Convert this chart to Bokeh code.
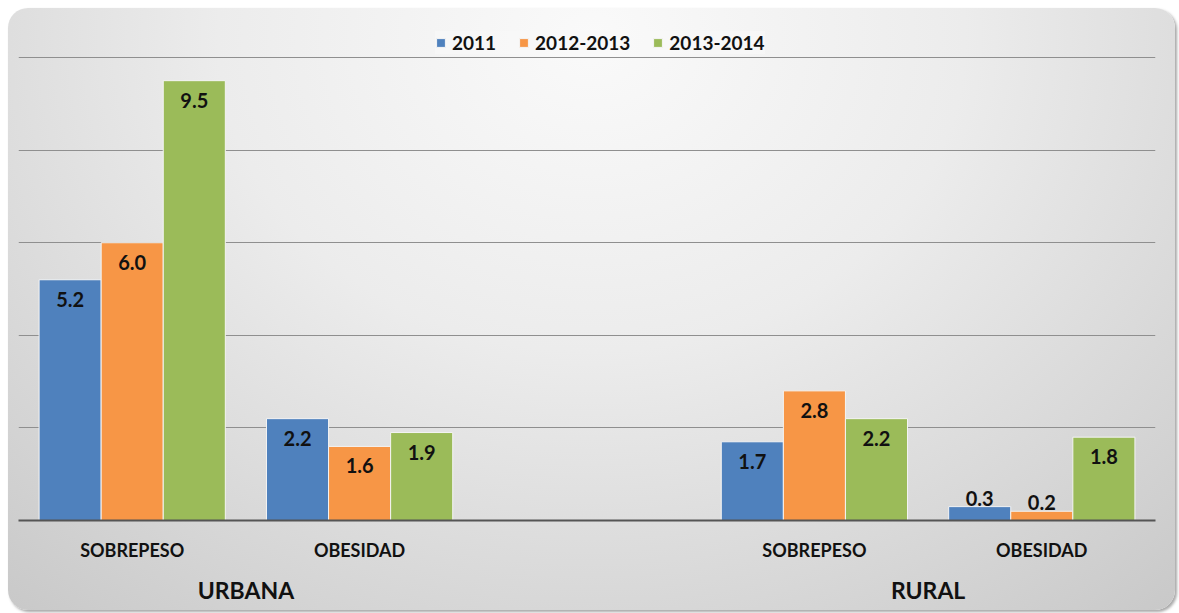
from bokeh.plotting import figure
from bokeh.models import ColumnDataSource, FactorRange, Legend, LegendItem, Grid, FixedTicker, Range1d
from bokeh.transform import dodge
from bokeh.core.properties import value
from bokeh.embed import file_html
from bokeh.resources import INLINE

zones = ["URBANA", "URBANA", "RURAL", "RURAL"]
conditions = ["SOBREPESO", "OBESIDAD", "SOBREPESO", "OBESIDAD"]
series_names = ["2011", "2012-2013", "2013-2014"]
v2011 = [5.2, 2.2, 1.7, 0.3]
v2012 = [6.0, 1.6, 2.8, 0.2]
v2014 = [9.5, 1.9, 2.2, 1.8]
y_ticks = [0, 2, 4, 6, 8, 10]

colors = ["#4F81BD", "#F79646", "#9BBB59"]
FONT = "Lato"

factors = list(zip(zones, conditions))

p = figure(
    x_range=FactorRange(*factors, group_padding=1.0, range_padding=0.0),
    y_range=Range1d(0, 10.8),
    width=1167, height=602,
    output_backend="svg", toolbar_location=None,
    min_border_left=10, min_border_right=20, min_border_top=12, min_border_bottom=90,
)
p.margin = (8, 0, 0, 8)
p.styles = {
    "background": "radial-gradient(ellipse 80% 130% at 50% 5%, #fafafa 0%, #ececec 40%, #d6d6d6 75%, #c6c6c6 100%)",
    "border-radius": "20px",
    "box-shadow": "2px 2px 3px rgba(0,0,0,0.35)",
}
p.background_fill_color = None
p.border_fill_color = None
p.outline_line_color = None
p.xgrid.visible = False
p.ygrid.visible = False
p.yaxis.visible = False

p.add_layout(Grid(dimension=1, ticker=FixedTicker(ticks=y_ticks),
                  grid_line_color="#8f8f8f", grid_line_width=1))

series = [v2011, v2012, v2014]
bw = 0.273
offsets = [-bw, 0.0, bw]
items = []
for name, vals, col, off in zip(series_names, series, colors, offsets):
    lbl = ["%.1f" % v for v in vals]
    inside = [v >= 1.0 for v in vals]
    src = ColumnDataSource(dict(
        x=factors, v=vals, lbl=lbl,
        yoff=[12 if i else -1 for i in inside],
        base=["top" if i else "bottom" for i in inside],
    ))
    r = p.vbar(x=dodge("x", off, range=p.x_range), top="v", width=bw, source=src,
               fill_color=col, line_color="#f4f4f4", line_width=1)
    p.text(x=dodge("x", off, range=p.x_range), y="v", text="lbl", source=src,
           text_align="center", text_baseline="base", y_offset="yoff",
           text_font=value(FONT), text_font_style="bold", text_font_size="20px",
           text_color="#111111")
    items.append(LegendItem(label=name, renderers=[r]))

ax = p.xaxis[0]
ax.axis_line_color = "#555555"
ax.axis_line_width = 2
ax.major_tick_line_color = None
ax.minor_tick_line_color = None
ax.major_label_text_font_size = "18px"
ax.group_text_font_size = "23px"
ax.major_label_text_font = FONT
ax.group_text_font = FONT
ax.major_label_text_font_style = "bold"
ax.group_text_font_style = "bold"
ax.major_label_text_color = "#111111"
ax.group_text_color = "#111111"
ax.separator_line_alpha = 0
ax.major_label_standoff = 12

legend = Legend(items=items, orientation="horizontal", location=(417, 466),
                label_text_font=FONT, label_text_font_style="bold",
                label_text_font_size="19px", label_text_color="#111111",
                glyph_width=11, glyph_height=11, label_standoff=6, spacing=22,
                background_fill_color="#f8f8f8", background_fill_alpha=0.6,
                border_line_color=None, padding=5, margin=0)
p.add_layout(legend)

open("out.html", "w").write(file_html(p, INLINE))
